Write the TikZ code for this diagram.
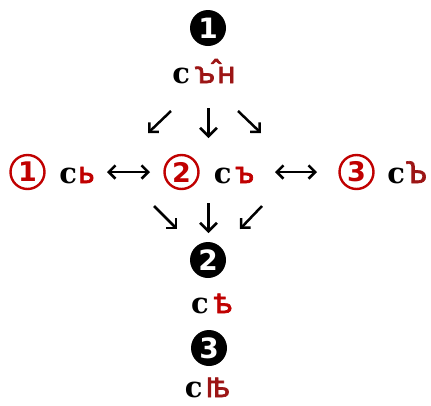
\documentclass[tikz,border=0pt]{standalone}
\usepackage{fontspec}
\setmainfont{DejaVu Sans}
\newfontfamily\blkfont{DejaVu Serif}
\newfontfamily\ltrfont{Noto Sans}[AutoFakeBold=2.2]
\usepackage{tikz}
\usetikzlibrary{arrows.meta}
\definecolor{yerred}{HTML}{C00000}
\definecolor{yerdark}{HTML}{9C1515}

\begin{document}
\begin{tikzpicture}[x=1pt, y=-1pt, line width=2.5pt, line cap=butt]
\tikzset{
  stage/.style={circle, fill=black, text=white, inner sep=0pt, minimum size=36pt, font=\bfseries\fontsize{28}{28}\selectfont},
  choice/.style={circle, draw=yerred, text=yerred, line width=2.4pt, inner sep=0pt, minimum size=34pt, font=\bfseries\fontsize{27}{27}\selectfont},
  word/.style={inner sep=0pt, anchor=base},
  dn/.style={-{Straight Barb[angle=90:12pt]}},
  dg/.style={-{Straight Barb[angle=90:9.5pt]}},
  lr/.style={{Straight Barb[angle=90:9.5pt]}-{Straight Barb[angle=90:9.5pt]}}
}
\newcommand{\cs}{{\blkfont\bfseries\fontsize{29}{29}\selectfont с}}
\newcommand{\yer}[2]{\textcolor{#1}{\ltrfont\bfseries\fontsize{30}{30}\selectfont #2}}
\useasboundingbox (0,0) rectangle (431,405);
% top form
\node[stage] (m1) at (208,28) {1};
\node[word] (w1) at (204,83) {\cs\hspace{5pt}\yer{yerdark}{ꙏ\kern1pt\makebox[0pt]{\raisebox{1pt}{ˆ}}\kern1pt н}};
% arrows down to the three readings
\coordinate (t1a) at (171,111); \coordinate (t1b) at (148,133);
\coordinate (t2a) at (208.5,108); \coordinate (t2b) at (208.5,138);
\coordinate (t3a) at (238,111); \coordinate (t3b) at (261,133);
\draw[dg] (t1a) -- (t1b);
\draw[dn] (t2a) -- (t2b);
\draw[dg] (t3a) -- (t3b);
% the three readings
\node[choice] (a1) at (27.5,172) {1};
\node[word] (s1) at (77,183) {\cs\hspace{1pt}\yer{yerred}{ь}};
\node[choice] (a2) at (181.5,172) {2};
\node[word] (s2) at (234,183) {\cs\hspace{4pt}\yer{yerred}{ъ}};
\node[choice] (a3) at (356.5,172) {3};
\node[word] (s3) at (407,183) {\cs\hspace{2pt}\yer{yerdark}{Ꙏ}};
\coordinate (h1a) at (107,172); \coordinate (h1b) at (150,172);
\coordinate (h2a) at (275,172); \coordinate (h2b) at (317,172);
\draw[lr] (h1a) -- (h1b);
\draw[lr] (h2a) -- (h2b);
% arrows down to the later forms
\coordinate (b1a) at (154,206); \coordinate (b1b) at (177,229);
\coordinate (b2a) at (208.5,203); \coordinate (b2b) at (208.5,233);
\coordinate (b3a) at (262,206); \coordinate (b3b) at (240,229);
\draw[dg] (b1a) -- (b1b);
\draw[dn] (b2a) -- (b2b);
\draw[dg] (b3a) -- (b3b);
% later forms
\node[stage] (m2) at (208,260) {2};
\node[word] (w2) at (212,313) {\cs\hspace{5pt}\yer{yerred}{ѣ}};
\node[stage] (m3) at (209,348) {3};
\node[word] (w3) at (207.5,397) {\raisebox{0pt}[\height][0pt]{\cs\hspace{3pt}\yer{yerdark}{ꙓ}}};
\end{tikzpicture}
\end{document}
